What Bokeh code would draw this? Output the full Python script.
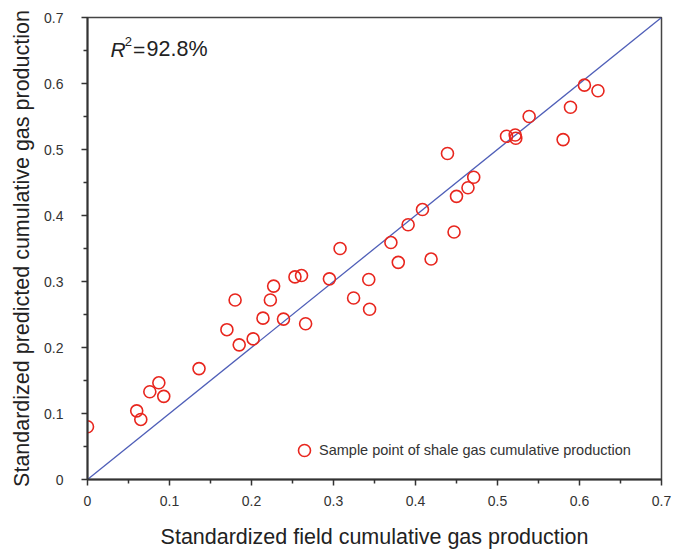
from bokeh.plotting import figure
from bokeh.models import Range1d, FixedTicker, Label, Legend, LegendItem
from bokeh.embed import file_html
from bokeh.resources import INLINE

# Sample points (standardized field vs predicted cumulative gas production)
field = [0.000, 0.060, 0.065, 0.076, 0.087, 0.093, 0.136, 0.170, 0.180, 0.185,
         0.202, 0.214, 0.223, 0.227, 0.239, 0.253, 0.261, 0.266, 0.295, 0.308,
         0.343, 0.3245, 0.344, 0.370, 0.379, 0.391, 0.4085, 0.419, 0.439, 0.447,
         0.450, 0.464, 0.471, 0.511, 0.5216, 0.5223, 0.5386, 0.580, 0.589, 0.606,
         0.6225]
predicted = [0.080, 0.104, 0.091, 0.133, 0.1465, 0.126, 0.168, 0.227, 0.272, 0.204,
             0.213, 0.2445, 0.272, 0.293, 0.243, 0.307, 0.309, 0.236, 0.304, 0.350,
             0.303, 0.275, 0.258, 0.359, 0.329, 0.386, 0.409, 0.334, 0.494, 0.375,
             0.429, 0.442, 0.458, 0.520, 0.522, 0.517, 0.550, 0.515, 0.564, 0.5975,
             0.589]
line_x = [0.0, 0.7]
line_y = [0.0, 0.7]
major_ticks = [0.0, 0.1, 0.2, 0.3, 0.4, 0.5, 0.6, 0.7]
minor_ticks = [0.05, 0.15, 0.25, 0.35, 0.45, 0.55, 0.65]
tick_labels = {0.0: "0", 0.1: "0.1", 0.2: "0.2", 0.3: "0.3", 0.4: "0.4",
               0.5: "0.5", 0.6: "0.6", 0.7: "0.7"}
r2_text = "92.8%"

FONT = "Liberation Sans"
DARK = "#333333"

p = figure(output_backend="svg", toolbar_location=None,
           x_range=Range1d(0, 0.7), y_range=Range1d(0, 0.7),
           frame_width=574, frame_height=462,
           min_border_left=87, min_border_top=17, min_border_right=12, min_border_bottom=70)
p.grid.visible = False
p.outline_line_color = "#444444"
p.outline_line_width = 1.5
p.background_fill_color = "white"
p.border_fill_color = "white"

for ax in (p.xaxis[0], p.yaxis[0]):
    ax.ticker = FixedTicker(ticks=major_ticks, minor_ticks=minor_ticks)
    ax.major_label_overrides = tick_labels
    ax.axis_line_color = DARK
    ax.axis_line_width = 2
    ax.major_tick_line_color = DARK
    ax.minor_tick_line_color = DARK
    ax.major_tick_line_width = 1.5
    ax.minor_tick_line_width = 1.5
    ax.major_tick_in = 0
    ax.major_tick_out = 6
    ax.minor_tick_in = 0
    ax.minor_tick_out = 4
    ax.major_label_text_font = FONT
    ax.major_label_text_font_size = "14px"
    ax.major_label_text_color = DARK
    ax.axis_label_text_font = FONT
    ax.axis_label_text_font_size = "21.5px"
    ax.axis_label_text_font_style = "normal"
    ax.axis_label_text_color = "#222222"

p.xaxis.axis_label = "Standardized field cumulative gas production"
p.yaxis.axis_label = "Standardized predicted cumulative gas production"
p.xaxis.major_label_standoff = 10
p.xaxis.axis_label_standoff = 16
p.yaxis.major_label_standoff = 18
p.yaxis.axis_label_standoff = 7

p.line(line_x, line_y, line_color="#4f5fb8", line_width=1.3)
pts = p.scatter(field, predicted, marker="circle", size=12, fill_color=None,
                line_color="#e8261e", line_width=1.6)

legend = Legend(items=[LegendItem(label="Sample point of shale gas cumulative production",
                                  renderers=[pts])],
                location=(202, 14), border_line_color=None, background_fill_alpha=0,
                label_text_font=FONT, label_text_font_size="14.5px", label_text_color=DARK,
                glyph_width=30, glyph_height=30, label_standoff=0, padding=0, margin=0,
                label_height=30)
p.add_layout(legend, "center")

p.add_layout(Label(x=0.028, y=0.652, text="R", text_font=FONT, text_font_size="21px",
                   text_font_style="italic", text_baseline="middle", text_color="#222222"))
p.add_layout(Label(x=0.0455, y=0.664, text="2", text_font=FONT, text_font_size="13px",
                   text_baseline="middle", text_color="#222222"))
p.add_layout(Label(x=0.0555, y=0.652, text="=", text_font=FONT, text_font_size="21px",
                   text_baseline="middle", text_color="#222222"))
p.add_layout(Label(x=0.072, y=0.652, text=r2_text, text_font=FONT, text_font_size="21.5px",
                   text_baseline="middle", text_color="#222222"))

open("out.html", "w").write(file_html(p, INLINE))
